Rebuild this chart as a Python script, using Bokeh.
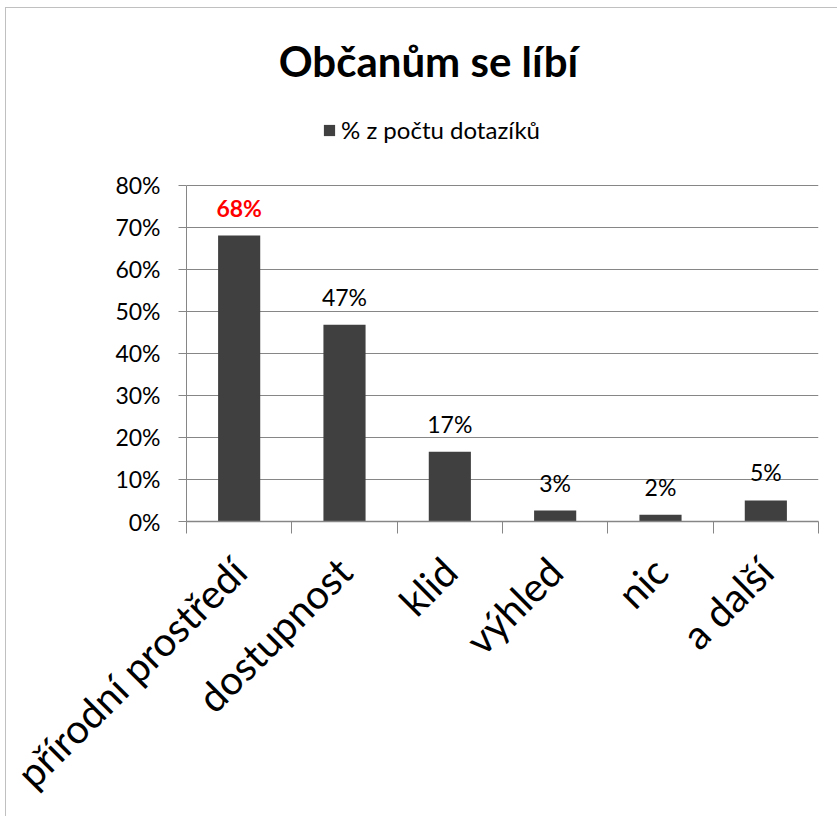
import math
from bokeh.plotting import figure
from bokeh.models import (ColumnDataSource, Range1d, LinearAxis, FixedTicker,
                          NumeralTickFormatter, CustomJSTickFormatter, Label)
from bokeh.core.properties import value
from bokeh.embed import file_html
from bokeh.resources import INLINE

# ---- data ----
categories = ["přírodní prostředí", "dostupnost", "klid", "výhled", "nic", "a další"]
shares = [0.68, 0.468, 0.166, 0.026, 0.016, 0.05]
share_labels = ["68%", "47%", "17%", "3%", "2%", "5%"]
label_colors = ["#ff0000", "#000000", "#000000", "#000000", "#000000", "#000000"]
label_styles = ["bold", "normal", "normal", "normal", "normal", "normal"]
y_ticks = [0, 0.1, 0.2, 0.3, 0.4, 0.5, 0.6, 0.7, 0.8]
title_text = "Občanům se líbí"
series_name = "% z počtu dotazíků"

FONT = "Lato"
GRAY = "#868686"

n = len(categories)
centers = [i + 0.5 for i in range(n)]
bounds = list(range(n + 1))
axis_max = y_ticks[-1]

src = ColumnDataSource(dict(x=centers, val=shares, lbl=share_labels,
                            col=label_colors, sty=label_styles))

# the frame extends above the 80 % line so that title and legend live inside it
p = figure(width=832, height=809, output_backend="svg", toolbar_location=None,
           x_range=Range1d(0, n), y_range=Range1d(0, 1.2202),
           x_axis_location=None, y_axis_location=None, title=None,
           min_border_left=180, min_border_right=20, min_border_top=0, min_border_bottom=295)
p.outline_line_color = None
p.background_fill_color = "white"
p.border_fill_color = "white"
p.styles = {"margin-left": "5px", "margin-top": "7px",
            "border-left": "1px solid #c0c0c0", "border-top": "1px solid #c0c0c0"}

# y axis
yax = LinearAxis(ticker=FixedTicker(ticks=y_ticks), formatter=NumeralTickFormatter(format="0%"),
                 bounds=(0, axis_max))
yax.axis_line_color = GRAY
yax.major_tick_line_color = GRAY
yax.major_tick_out = 8
yax.major_tick_in = 0
yax.minor_tick_line_color = None
yax.major_label_standoff = 18
yax.major_label_text_font = FONT
yax.major_label_text_font_size = "23px"
yax.major_label_text_color = "black"
p.add_layout(yax, "left")

p.ygrid.grid_line_color = GRAY
p.ygrid.ticker = yax.ticker
p.xgrid.grid_line_color = None

# boundary tick axis (x axis line with ticks between categories)
tax = LinearAxis(ticker=FixedTicker(ticks=bounds),
                 formatter=CustomJSTickFormatter(code="return ''"))
tax.axis_line_color = GRAY
tax.axis_line_width = 1.5
tax.major_tick_line_color = GRAY
tax.major_tick_out = 12
tax.major_tick_in = 0
tax.minor_tick_line_color = None
tax.major_label_standoff = 0
tax.major_label_text_font_size = "1px"
p.add_layout(tax, "below")

# category labels axis
cax = LinearAxis(ticker=FixedTicker(ticks=centers),
                 major_label_overrides={c: name for c, name in zip(centers, categories)})
cax.axis_line_color = None
cax.major_tick_line_color = None
cax.minor_tick_line_color = None
cax.major_label_orientation = math.pi / 4
cax.major_label_standoff = 25
cax.major_label_text_font = FONT
cax.major_label_text_font_size = "40px"
cax.major_label_text_color = "black"
p.add_layout(cax, "below")

# bars
bars = p.vbar(x="x", top="val", width=0.4, source=src, fill_color="#404040",
              line_color=None, legend_label=series_name)

# data labels
p.text(x="x", y="val", text="lbl", source=src, text_color="col", text_font_style="sty",
       text_align="center", text_baseline="bottom", y_offset=-14,
       text_font=value(FONT), text_font_size="23px")

# legend
lg = p.legend[0]
lg.location = (136, 377)
lg.orientation = "horizontal"
lg.background_fill_alpha = 0
lg.border_line_color = None
lg.padding = 0
lg.margin = 0
lg.glyph_width = 14
lg.glyph_height = 14
lg.label_standoff = 5
lg.label_text_font = FONT
lg.label_text_font_size = "24px"
lg.label_text_color = "black"
lg.label_height = 28

# title
p.add_layout(Label(x=242, y=461, x_units="screen", y_units="screen", text=title_text,
                   text_align="center", text_baseline="middle", text_font=FONT,
                   text_font_size="42px", text_font_style="bold", text_color="black"))

open("out.html", "w").write(file_html(p, INLINE))
